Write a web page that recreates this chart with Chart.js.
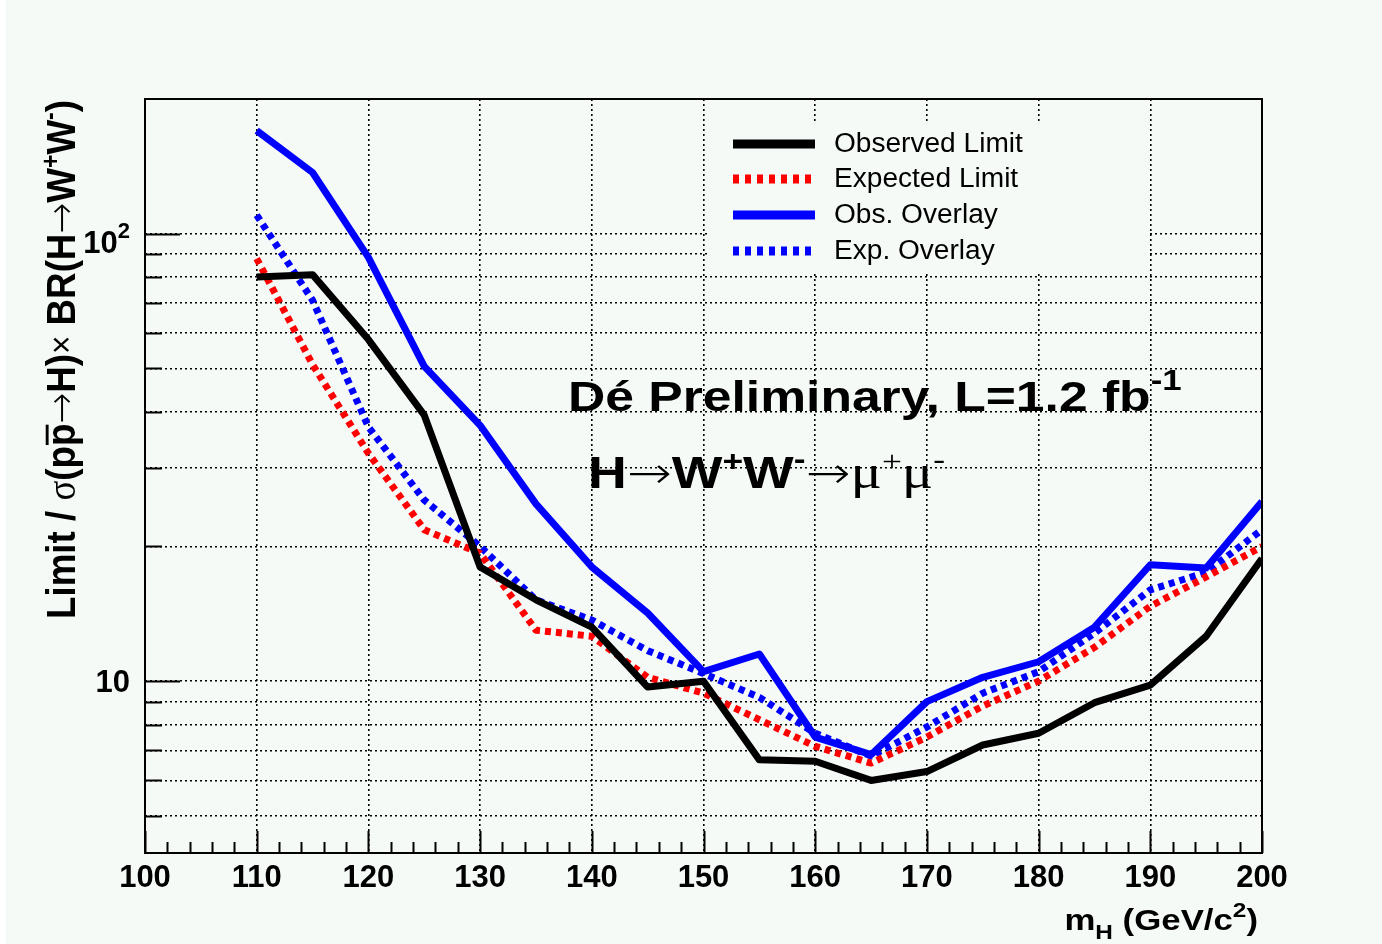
<!DOCTYPE html>
<html>
<head>
<meta charset="utf-8">
<title>H to WW to mu mu limit</title>
<script src="https://cdn.jsdelivr.net/npm/chart.js@4.4.1/dist/chart.umd.min.js"></script>
<style>
  html, body { margin: 0; padding: 0; background: #fff; }
  #wrap { width: 1382px; height: 944px; }
</style>
</head>
<body>
<div id="wrap"><canvas id="limitChart" width="1382" height="944"></canvas></div>
<script>
// Higgs mass points (GeV/c^2)
const MASSES = [110, 115, 120, 125, 130, 135, 140, 145, 150, 155, 160, 165, 170, 175, 180, 185, 190, 195, 200];

// limit / SM cross section x BR
const OBSERVED    = [80, 81, 58, 39.3, 18.0, 15.2, 13.2, 9.7, 10.0, 6.67, 6.62, 6.0, 6.28, 7.2, 7.65, 8.95, 9.8, 12.6, 18.8];
const EXPECTED    = [88, 51, 32.3, 21.8, 19.3, 13.0, 12.6, 10.2, 9.4, 8.2, 7.15, 6.56, 7.5, 8.8, 10.0, 11.9, 14.7, 17.1, 20.0];
const OBS_OVERLAY = [170, 137, 88.5, 50.5, 37.3, 24.9, 18.0, 14.2, 10.5, 11.5, 7.5, 6.85, 9.0, 10.2, 11.05, 13.2, 18.2, 17.9, 25.2];
const EXP_OVERLAY = [110, 71, 37, 25.4, 20.0, 15.2, 13.7, 11.7, 10.4, 9.2, 7.65, 6.8, 7.9, 9.4, 10.5, 12.8, 16.0, 17.5, 21.8];

const SERIES_LABELS = ['Observed Limit', 'Expected Limit', 'Obs. Overlay', 'Exp. Overlay'];

// axis setup
const X_MIN = 100, X_MAX = 200, X_STEP = 10, X_MINOR_STEP = 2;
const Y_MIN = 4.13, Y_MAX = 200;
const Y_GRID = [5, 6, 7, 8, 9, 10, 20, 30, 40, 50, 60, 70, 80, 90, 100];
const Y_MAJOR = [10, 100];
const Y_TICK_LABELS = { 10: ['10', ''], 100: ['10', '2'] };

const SANS = '"Liberation Sans", Arial, sans-serif';
const SERIF = '"Liberation Serif", "Times New Roman", serif';
const ARROW = '"DejaVu Sans", sans-serif';
const BG = '#f5faf7';
const STRETCH = 1.16;

function makeSeries(label, values, color, dashed) {
    return {
        label: label,
        data: MASSES.map((m, i) => ({ x: m, y: values[i] })),
        borderColor: color,
        backgroundColor: color,
        borderWidth: 7,
        borderDash: dashed ? [6, 5] : [],
        borderCapStyle: 'butt',
        borderJoinStyle: 'round',
        pointRadius: 0,
        tension: 0,
        fill: false
    };
}

// draws a run of text pieces: [text, font, rise, overline]
function drawRich(ctx, segs, x, y, opts) {
    ctx.save();
    ctx.translate(x, y);
    if (opts.rotate) ctx.rotate(opts.rotate);
    ctx.scale(opts.sx || 1, opts.sy || 1);
    ctx.fillStyle = '#000';
    ctx.strokeStyle = '#000';
    ctx.textAlign = 'left';
    ctx.textBaseline = opts.baseline || 'alphabetic';
    const widths = segs.map(s => { ctx.font = s[1]; return ctx.measureText(s[0]).width; });
    const total = widths.reduce((a, b) => a + b, 0);
    let cx = opts.align === 'right' ? -total : 0;
    segs.forEach((s, i) => {
        ctx.font = s[1];
        ctx.fillText(s[0], cx, -(s[2] || 0));
        if (s[3]) {
            ctx.lineWidth = 2.5;
            ctx.beginPath();
            ctx.moveTo(cx + 1, -s[3]);
            ctx.lineTo(cx + widths[i] - 1, -s[3]);
            ctx.stroke();
        }
        cx += widths[i];
    });
    ctx.restore();
}

const rootStyle = {
    id: 'rootStyle',
    beforeDraw(chart) {
        const ctx = chart.ctx;
        ctx.save();
        ctx.fillStyle = BG;
        ctx.fillRect(0, 0, chart.width, chart.height);
        ctx.fillStyle = '#fff';
        ctx.fillRect(0, 0, 6, chart.height);
        ctx.restore();
    },
    beforeDatasetsDraw(chart) {
        // legend pad hides the grid behind the entries
        const ctx = chart.ctx;
        ctx.save();
        ctx.fillStyle = BG;
        ctx.fillRect(707, 123, 441, 148);
        ctx.restore();
    },
    afterDatasetsDraw(chart) {
        const ctx = chart.ctx;
        const area = chart.chartArea;
        const xs = chart.scales.x, ys = chart.scales.y;
        ctx.save();
        ctx.strokeStyle = '#000';
        ctx.lineWidth = 2;
        ctx.beginPath();
        // inward ticks on the x axis
        for (let m = X_MIN; m <= X_MAX; m += X_MINOR_STEP) {
            const px = Math.round(xs.getPixelForValue(m)) + 0.5;
            const len = m % X_STEP === 0 ? 22 : 11;
            ctx.moveTo(px, area.bottom);
            ctx.lineTo(px, area.bottom - len);
        }
        // inward ticks on the y axis
        Y_GRID.forEach(v => {
            const py = Math.round(ys.getPixelForValue(v)) + 0.5;
            const len = Y_MAJOR.includes(v) ? 35 : 17;
            ctx.moveTo(area.left, py);
            ctx.lineTo(area.left + len, py);
        });
        ctx.stroke();
        ctx.strokeRect(area.left, area.top, area.right - area.left, area.bottom - area.top);
        ctx.restore();

        // decade labels on the y axis
        Y_MAJOR.forEach(v => {
            const py = ys.getPixelForValue(v);
            const [base, exp] = Y_TICK_LABELS[v];
            const segs = [[base, 'bold 31px ' + SANS]];
            if (exp) segs.push([exp, 'bold 22px ' + SANS, 15]);
            drawRich(ctx, segs, 130, py + (exp ? 19 : 11), { align: 'right' });
        });
    },
    afterDraw(chart) {
        const ctx = chart.ctx;

        // legend without a border
        const rows = [144, 179, 215, 251];
        chart.data.datasets.forEach((ds, i) => {
            ctx.save();
            ctx.strokeStyle = ds.borderColor;
            ctx.lineWidth = 9;
            ctx.lineCap = 'butt';
            ctx.setLineDash(ds.borderDash.length ? [6, 6] : []);
            ctx.beginPath();
            ctx.moveTo(733, rows[i]);
            ctx.lineTo(815, rows[i]);
            ctx.stroke();
            ctx.restore();
            drawRich(ctx, [[ds.label, '27px ' + SANS]], 834, rows[i] + 1, { sx: 1.04, baseline: 'middle' });
        });

        // experiment label
        drawRich(ctx, [
            ['D\u00E9 Preliminary, L=1.2 fb', 'bold 43px ' + SANS],
            ['-1', 'bold 29px ' + SANS, 21]
        ], 568, 411, { sx: 1.2 });

        drawRich(ctx, [
            ['H', 'bold 44px ' + SANS],
            ['\u2192', '200 44px ' + ARROW],
            ['W', 'bold 44px ' + SANS],
            ['+', 'bold 29px ' + SANS, 17],
            ['W', 'bold 44px ' + SANS],
            ['-', 'bold 29px ' + SANS, 19],
            ['\u2192', '200 44px ' + ARROW],
            ['\u03BC', '48px ' + SERIF],
            ['+', '29px ' + SERIF, 17],
            ['\u03BC', '48px ' + SERIF],
            ['-', '29px ' + SERIF, 19]
        ], 588, 488, { sx: 1.22 });

        // x axis title
        drawRich(ctx, [
            ['m', 'bold 30px ' + SANS],
            ['H', 'bold 21px ' + SANS, -9],
            [' (GeV/c', 'bold 30px ' + SANS],
            ['2', 'bold 21px ' + SANS, 13],
            [')', 'bold 30px ' + SANS]
        ], 1258, 930, { align: 'right', sx: STRETCH });

        // y axis title, rotated, ending at the top of the frame
        drawRich(ctx, [
            ['Limit / ', 'bold 35px ' + SANS],
            ['\u03C3', '35px ' + SERIF],
            ['(p', 'bold 35px ' + SANS],
            ['p', 'bold 35px ' + SANS, 0, 24],
            ['\u2192', '200 35px ' + ARROW],
            ['H)', 'bold 35px ' + SANS],
            ['\u00D7', '30px ' + SANS, 2],
            [' BR(H', 'bold 35px ' + SANS],
            ['\u2192', '200 35px ' + ARROW],
            ['W', 'bold 35px ' + SANS],
            ['+', 'bold 22px ' + SANS, 14],
            ['W', 'bold 35px ' + SANS],
            ['-', 'bold 22px ' + SANS, 15],
            [')', 'bold 35px ' + SANS]
        ], 75, 100, { align: 'right', rotate: -Math.PI / 2, sx: 1.05, sy: STRETCH });
    }
};

const ctx = document.getElementById('limitChart');

const limitChart = new Chart(ctx, {
    type: 'line',
    data: {
        datasets: [
            makeSeries(SERIES_LABELS[0], OBSERVED, '#000000', false),
            makeSeries(SERIES_LABELS[1], EXPECTED, '#ff0000', true),
            makeSeries(SERIES_LABELS[2], OBS_OVERLAY, '#0000ff', false),
            makeSeries(SERIES_LABELS[3], EXP_OVERLAY, '#0000ff', true)
        ]
    },
    options: {
        responsive: false,
        animation: false,
        layout: { padding: { top: 99, right: 120, left: 0, bottom: 0 } },
        plugins: {
            legend: { display: false },
            tooltip: { enabled: false }
        },
        scales: {
            x: {
                type: 'linear',
                min: X_MIN,
                max: X_MAX,
                afterFit: s => { s.height = 91; },
                ticks: {
                    stepSize: X_STEP,
                    autoSkip: false,
                    maxRotation: 0,
                    padding: 7,
                    color: '#000',
                    font: { family: SANS, size: 31, weight: 'bold' }
                },
                grid: { color: '#000', lineWidth: 1.6, drawTicks: false },
                border: { display: false, dash: [2, 3] }
            },
            y: {
                type: 'logarithmic',
                min: Y_MIN,
                max: Y_MAX,
                afterFit: s => { s.width = 145; },
                afterBuildTicks: s => { s.ticks = Y_GRID.map(v => ({ value: v })); },
                ticks: {
                    display: false,
                    autoSkip: false
                },
                grid: { color: '#000', lineWidth: 1.6, drawTicks: false },
                border: { display: false, dash: [2, 3] }
            }
        }
    },
    plugins: [rootStyle]
});
</script>
</body>
</html>
